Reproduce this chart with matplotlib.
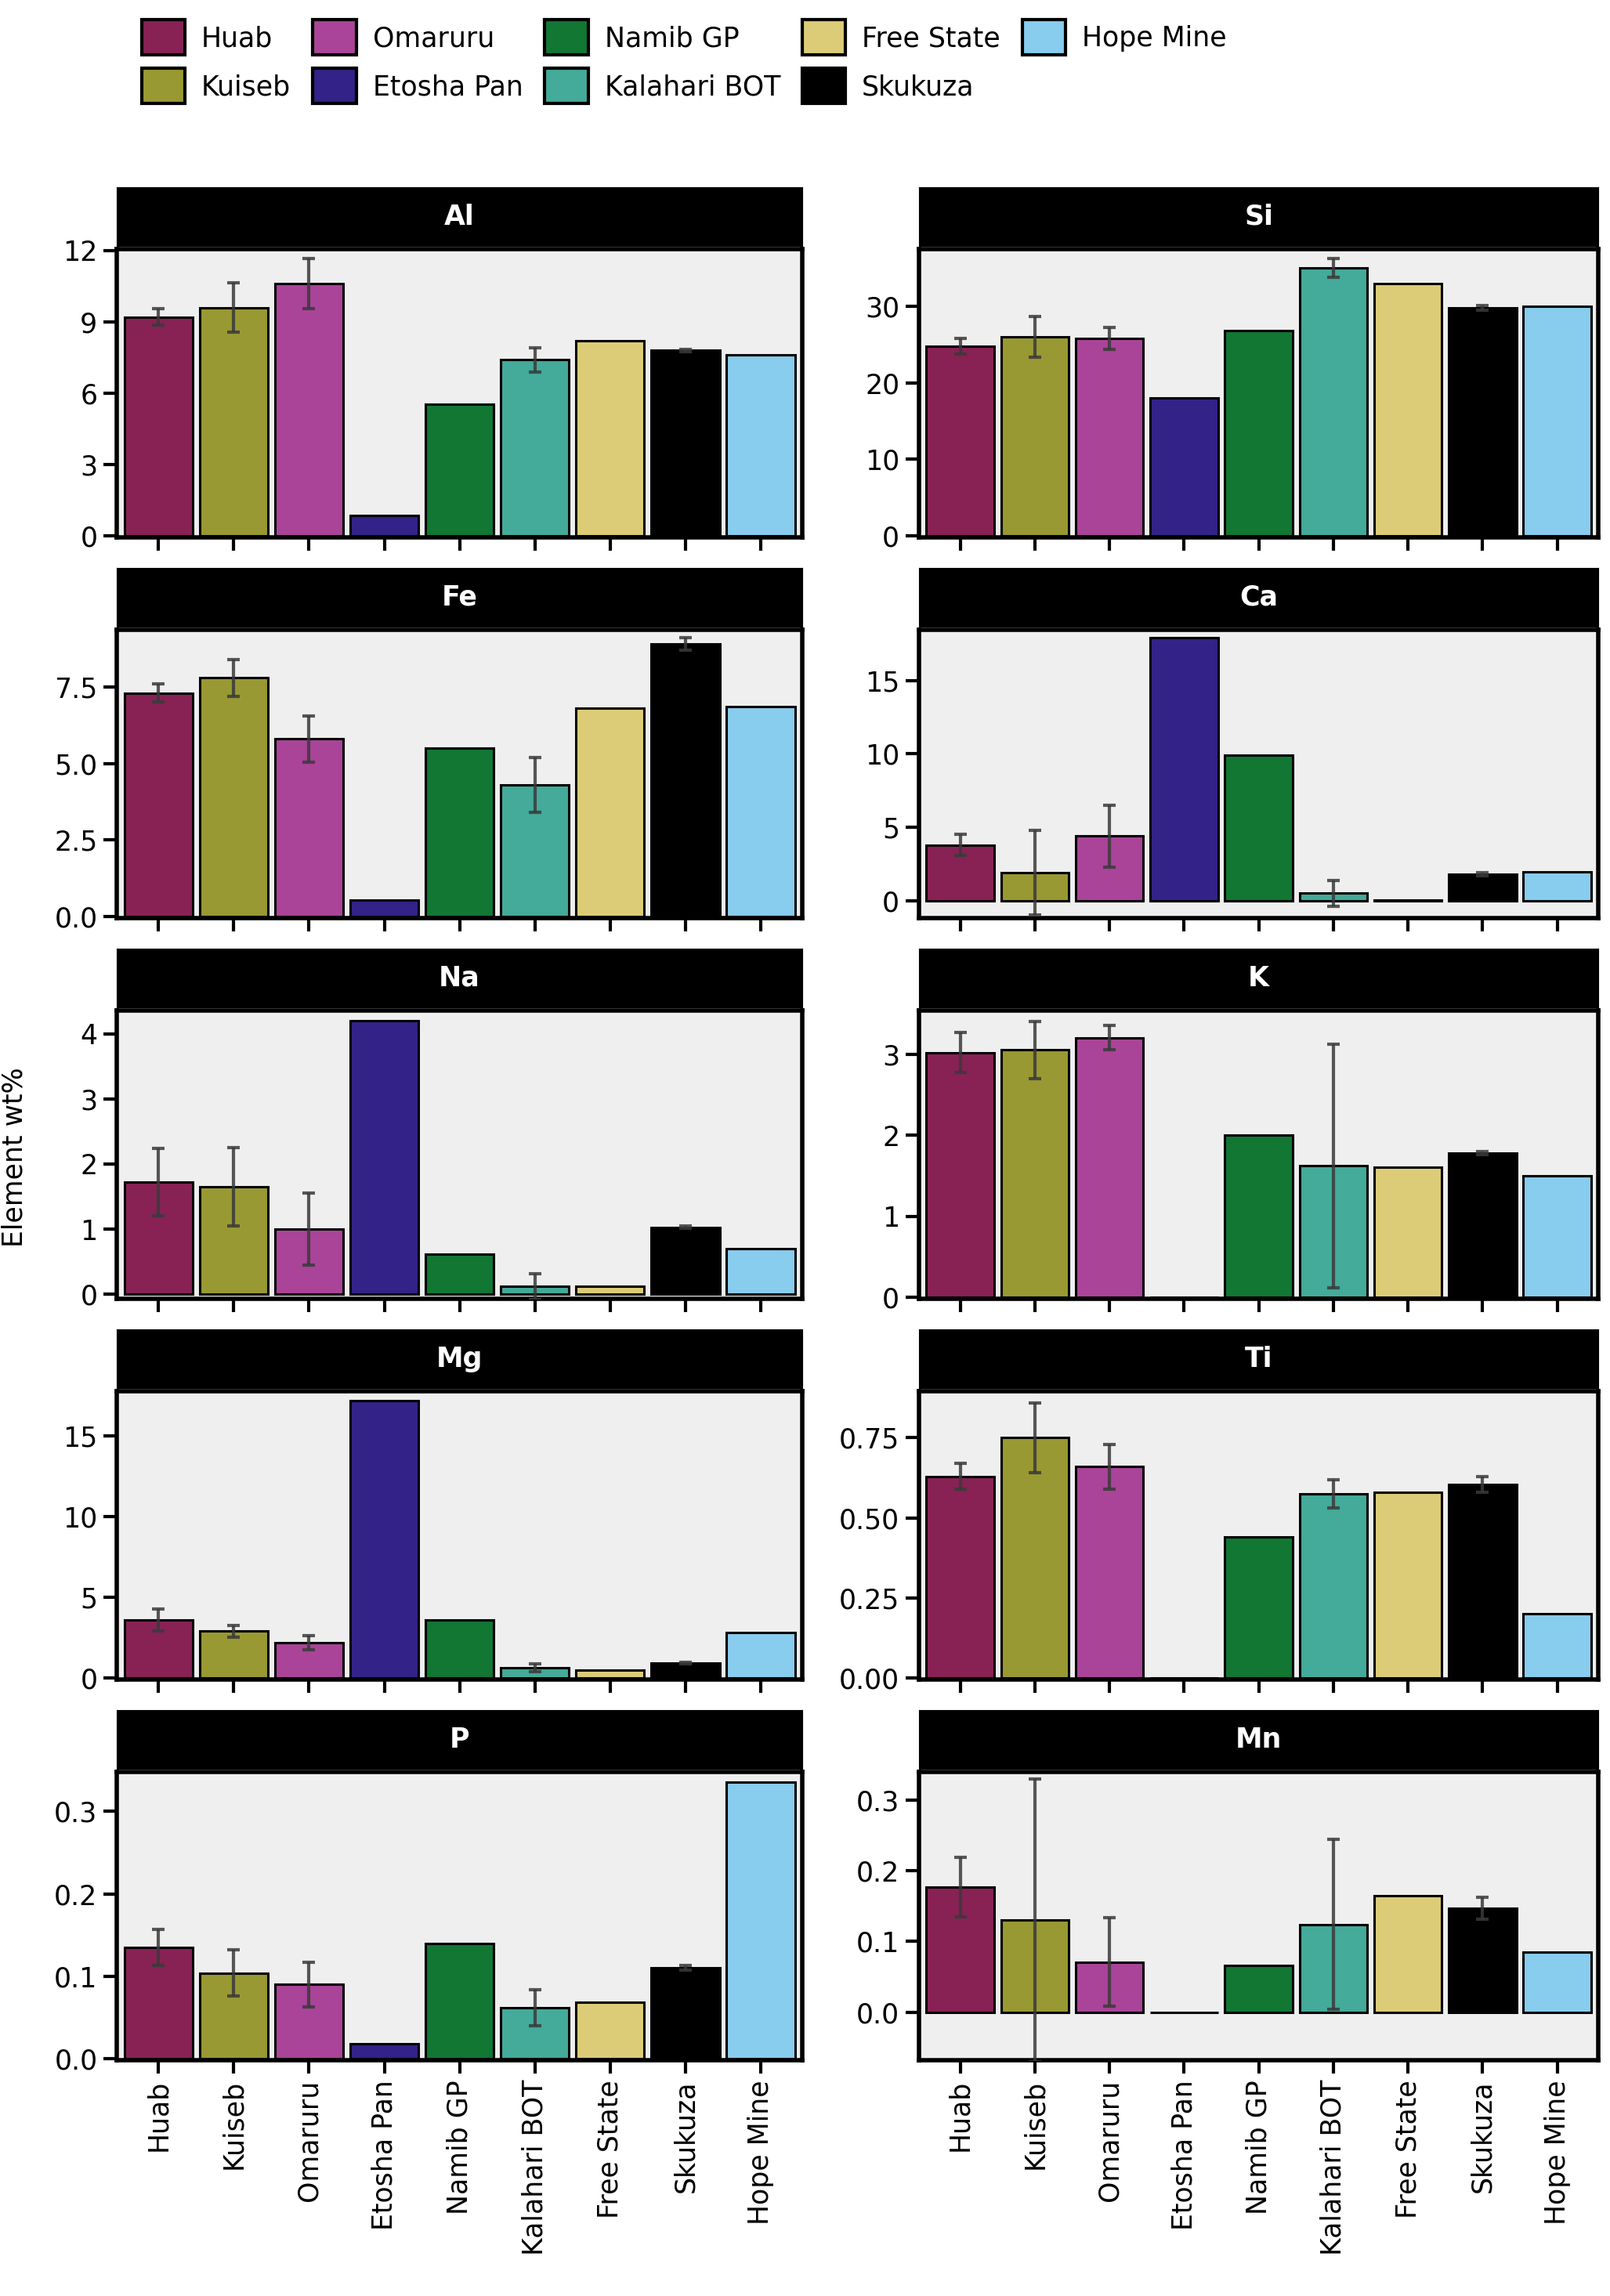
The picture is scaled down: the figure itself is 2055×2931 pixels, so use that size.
import matplotlib
matplotlib.use("Agg")
import matplotlib.pyplot as plt
from matplotlib.patches import Patch

sites = ["Huab", "Kuiseb", "Omaruru", "Etosha Pan", "Namib GP",
         "Kalahari BOT", "Free State", "Skukuza", "Hope Mine"]
colors = ["#882255", "#999933", "#AA4499", "#332288", "#117733",
          "#44AA99", "#DDCC77", "#000000", "#88CCEE"]

al = [9.2, 9.6, 10.6, 0.85, 5.55, 7.4, 8.2, 7.8, 7.6]
al_err = [0.35, 1.05, 1.05, 0, 0, 0.5, 0, 0.05, 0]
si = [24.8, 26.0, 25.8, 18.0, 26.8, 35.0, 33.0, 29.8, 30.0]
si_err = [1.0, 2.7, 1.4, 0, 0, 1.2, 0, 0.3, 0]
fe = [7.3, 7.8, 5.8, 0.55, 5.5, 4.3, 6.8, 8.9, 6.85]
fe_err = [0.3, 0.6, 0.75, 0, 0, 0.9, 0, 0.2, 0]
ca = [3.8, 1.9, 4.4, 17.9, 9.9, 0.5, 0.02, 1.8, 1.95]
ca_err = [0.7, 2.9, 2.1, 0, 0, 0.9, 0, 0.1, 0]
na = [1.72, 1.65, 1.0, 4.2, 0.62, 0.12, 0.12, 1.03, 0.7]
na_err = [0.52, 0.6, 0.55, 0, 0, 0.2, 0, 0.02, 0]
k = [3.02, 3.05, 3.2, 0.0, 2.0, 1.62, 1.6, 1.78, 1.5]
k_err = [0.25, 0.35, 0.15, 0, 0, 1.5, 0, 0.02, 0]
mg = [3.6, 2.9, 2.2, 17.2, 3.6, 0.65, 0.5, 0.95, 2.85]
mg_err = [0.7, 0.35, 0.45, 0, 0, 0.25, 0, 0.05, 0]
ti = [0.63, 0.75, 0.66, 0.0, 0.44, 0.575, 0.58, 0.605, 0.2]
ti_err = [0.04, 0.11, 0.07, 0, 0, 0.045, 0, 0.025, 0]
p = [0.135, 0.104, 0.09, 0.018, 0.14, 0.062, 0.068, 0.11, 0.335]
p_err = [0.022, 0.028, 0.027, 0, 0, 0.022, 0, 0.003, 0]
mn = [0.177, 0.13, 0.071, 0.0, 0.066, 0.124, 0.165, 0.147, 0.085]
mn_err = [0.042, 0.2, 0.063, 0, 0, 0.12, 0, 0.015, 0]

panels = [
    ("Al", al, al_err, (-0.06, 12.06), [0, 3, 6, 9, 12], "{:g}"),
    ("Si", si, si_err, (-0.2, 37.5), [0, 10, 20, 30], "{:g}"),
    ("Fe", fe, fe_err, (-0.05, 9.37), [0, 2.5, 5, 7.5], "{:.1f}"),
    ("Ca", ca, ca_err, (-1.19, 18.47), [0, 5, 10, 15], "{:g}"),
    ("Na", na, na_err, (-0.07, 4.36), [0, 1, 2, 3, 4], "{:g}"),
    ("K", k, k_err, (-0.02, 3.54), [0, 1, 2, 3], "{:g}"),
    ("Mg", mg, mg_err, (-0.09, 17.8), [0, 5, 10, 15], "{:g}"),
    ("Ti", ti, ti_err, (-0.005, 0.896), [0, 0.25, 0.5, 0.75], "{:.2f}"),
    ("P", p, p_err, (-0.002, 0.348), [0, 0.1, 0.2, 0.3], "{:.1f}"),
    ("Mn", mn, mn_err, (-0.068, 0.34), [0, 0.1, 0.2, 0.3], "{:.1f}"),
]

W, H = 1100.0, 1568.0
fig = plt.figure(figsize=(20.55, 29.31), dpi=100)
x = list(range(len(sites)))
for i, (name, vals, errs, ylim, ticks, fmt) in enumerate(panels):
    row, col = divmod(i, 2)
    x0, x1 = (80, 548) if col == 0 else (628, 1092)
    top, bot = 170 + 260 * row, 367 + 260 * row
    ax = fig.add_axes([x0 / W, 1 - bot / H, (x1 - x0) / W, (bot - top) / H])
    ax.set_facecolor("#EFEFEF")
    ax.bar(x, vals, width=0.91, color=colors, edgecolor="black", linewidth=2.2, zorder=2)
    ex = [xi for xi, e in zip(x, errs) if e > 0]
    ev = [v for v, e in zip(vals, errs) if e > 0]
    ee = [e for e in errs if e > 0]
    ax.errorbar(ex, ev, yerr=ee, fmt="none", ecolor="#3a3a3a", elinewidth=3,
                capsize=6, capthick=3, zorder=3, alpha=0.85)
    ax.set_xlim(-0.55, 8.55)
    ax.set_ylim(*ylim)
    ax.set_yticks(ticks)
    ax.set_yticklabels([fmt.format(t) for t in ticks])
    ax.set_xticks(x)
    if row == 4:
        ax.set_xticklabels(sites, rotation=90, fontsize=25)
    else:
        ax.set_xticklabels([])
    ax.tick_params(axis="both", direction="out", length=12, width=3, labelsize=25, pad=6)
    for s in ax.spines.values():
        s.set_linewidth(4)
    sax = fig.add_axes([x0 / W, 1 - (168 + 260 * row) / H, (x1 - x0) / W, 40 / H])
    sax.set_facecolor("black")
    sax.set_xticks([])
    sax.set_yticks([])
    sax.text(0.5, 0.5, name, color="white", fontsize=25, fontweight="bold",
             ha="center", va="center", transform=sax.transAxes)

fig.text(10 / W, 1 - 790 / H, "Element wt%", rotation=90, fontsize=25,
         ha="center", va="center")

handles = [Patch(facecolor=c, edgecolor="black", linewidth=3) for c in colors]
fig.legend(handles, sites, ncol=5, loc="upper left", bbox_to_anchor=(80 / W, 1.002),
           frameon=False, fontsize=25, handlelength=1.6, handleheight=1.6,
           columnspacing=0.8, handletextpad=0.6, labelspacing=0.5)

fig.savefig("out.png", dpi=100)
